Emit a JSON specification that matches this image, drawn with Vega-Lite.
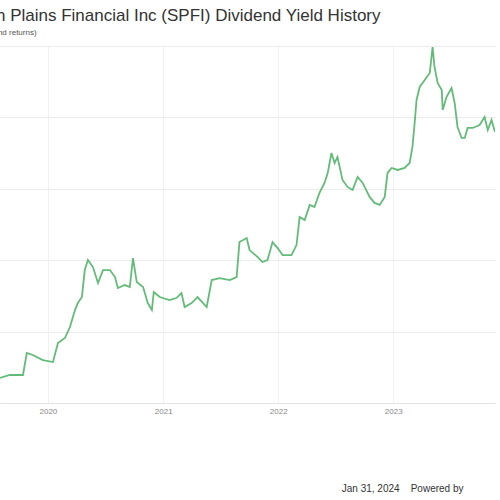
{
  "$schema": "https://vega.github.io/schema/vega-lite/v6.json",
  "width": 495,
  "height": 357,
  "autosize": {"type": "none"},
  "padding": {"top": 46, "left": 0, "right": 5, "bottom": 97},
  "background": "white",
  "title": {
    "text": "South Plains Financial Inc (SPFI) Dividend Yield History",
    "subtitle": "(net dividend returns)",
    "anchor": "start",
    "dx": -39,
    "font": "Liberation Sans",
    "fontSize": 17,
    "fontWeight": "normal",
    "color": "#333333",
    "subtitleFont": "Liberation Sans",
    "subtitleFontSize": 8,
    "subtitleColor": "#555555",
    "subtitlePadding": 4,
    "offset": 8
  },
  "config": {
    "view": {"stroke": null},
    "axis": {"labelFont": "Liberation Sans", "titleFont": "Liberation Sans"}
  },
  "data": {
    "values": [
      {"date": "2019-08-02", "yield": 0.175},
      {"date": "2019-09-02", "yield": 0.196},
      {"date": "2019-10-14", "yield": 0.196},
      {"date": "2019-10-26", "yield": 0.35},
      {"date": "2019-11-14", "yield": 0.336},
      {"date": "2019-12-16", "yield": 0.30},
      {"date": "2020-01-17", "yield": 0.287},
      {"date": "2020-02-02", "yield": 0.42},
      {"date": "2020-02-24", "yield": 0.455},
      {"date": "2020-03-11", "yield": 0.532},
      {"date": "2020-03-27", "yield": 0.651},
      {"date": "2020-04-05", "yield": 0.70},
      {"date": "2020-04-18", "yield": 0.742},
      {"date": "2020-04-27", "yield": 0.931},
      {"date": "2020-05-07", "yield": 1.001},
      {"date": "2020-05-23", "yield": 0.952},
      {"date": "2020-06-08", "yield": 0.84},
      {"date": "2020-06-24", "yield": 0.931},
      {"date": "2020-07-16", "yield": 0.931},
      {"date": "2020-08-01", "yield": 0.882},
      {"date": "2020-08-10", "yield": 0.805},
      {"date": "2020-09-01", "yield": 0.826},
      {"date": "2020-09-17", "yield": 0.812},
      {"date": "2020-09-27", "yield": 1.015},
      {"date": "2020-10-09", "yield": 0.847},
      {"date": "2020-10-29", "yield": 0.812},
      {"date": "2020-11-13", "yield": 0.70},
      {"date": "2020-11-26", "yield": 0.651},
      {"date": "2020-12-02", "yield": 0.777},
      {"date": "2020-12-21", "yield": 0.742},
      {"date": "2021-01-21", "yield": 0.721},
      {"date": "2021-02-12", "yield": 0.735},
      {"date": "2021-02-28", "yield": 0.77},
      {"date": "2021-03-10", "yield": 0.672},
      {"date": "2021-04-01", "yield": 0.70},
      {"date": "2021-04-20", "yield": 0.742},
      {"date": "2021-05-19", "yield": 0.672},
      {"date": "2021-06-04", "yield": 0.861},
      {"date": "2021-06-29", "yield": 0.875},
      {"date": "2021-07-31", "yield": 0.861},
      {"date": "2021-08-22", "yield": 0.882},
      {"date": "2021-08-31", "yield": 1.127},
      {"date": "2021-09-23", "yield": 1.155},
      {"date": "2021-10-02", "yield": 1.071},
      {"date": "2021-10-28", "yield": 1.022},
      {"date": "2021-11-12", "yield": 0.987},
      {"date": "2021-11-28", "yield": 1.001},
      {"date": "2021-12-14", "yield": 1.127},
      {"date": "2021-12-30", "yield": 1.085},
      {"date": "2022-01-15", "yield": 1.036},
      {"date": "2022-02-12", "yield": 1.036},
      {"date": "2022-02-28", "yield": 1.106},
      {"date": "2022-03-10", "yield": 1.302},
      {"date": "2022-03-26", "yield": 1.281},
      {"date": "2022-04-11", "yield": 1.387},
      {"date": "2022-04-26", "yield": 1.373},
      {"date": "2022-05-12", "yield": 1.471},
      {"date": "2022-05-28", "yield": 1.541},
      {"date": "2022-06-07", "yield": 1.611},
      {"date": "2022-06-19", "yield": 1.751},
      {"date": "2022-06-29", "yield": 1.681},
      {"date": "2022-07-08", "yield": 1.723},
      {"date": "2022-07-24", "yield": 1.562},
      {"date": "2022-08-09", "yield": 1.513},
      {"date": "2022-08-25", "yield": 1.492},
      {"date": "2022-09-10", "yield": 1.583},
      {"date": "2022-09-26", "yield": 1.541},
      {"date": "2022-10-18", "yield": 1.443},
      {"date": "2022-11-03", "yield": 1.401},
      {"date": "2022-11-19", "yield": 1.387},
      {"date": "2022-12-05", "yield": 1.443},
      {"date": "2022-12-14", "yield": 1.611},
      {"date": "2022-12-27", "yield": 1.646},
      {"date": "2023-01-15", "yield": 1.632},
      {"date": "2023-02-06", "yield": 1.646},
      {"date": "2023-02-22", "yield": 1.681},
      {"date": "2023-03-03", "yield": 1.793},
      {"date": "2023-03-10", "yield": 1.961},
      {"date": "2023-03-16", "yield": 2.122},
      {"date": "2023-03-26", "yield": 2.213},
      {"date": "2023-04-11", "yield": 2.262},
      {"date": "2023-04-27", "yield": 2.311},
      {"date": "2023-05-06", "yield": 2.493},
      {"date": "2023-05-12", "yield": 2.353},
      {"date": "2023-05-22", "yield": 2.241},
      {"date": "2023-06-04", "yield": 2.192},
      {"date": "2023-06-07", "yield": 2.052},
      {"date": "2023-06-19", "yield": 2.143},
      {"date": "2023-07-05", "yield": 2.206},
      {"date": "2023-07-15", "yield": 2.101},
      {"date": "2023-07-24", "yield": 1.933},
      {"date": "2023-08-06", "yield": 1.856},
      {"date": "2023-08-16", "yield": 1.856},
      {"date": "2023-08-25", "yield": 1.926},
      {"date": "2023-09-10", "yield": 1.926},
      {"date": "2023-10-02", "yield": 1.947},
      {"date": "2023-10-18", "yield": 2.003},
      {"date": "2023-10-28", "yield": 1.912},
      {"date": "2023-11-09", "yield": 1.982},
      {"date": "2023-11-20", "yield": 1.898}
    ]
  },
  "mark": {"type": "line", "color": "#3daa57", "strokeWidth": 1.8, "opacity": 0.8, "clip": true},
  "encoding": {
    "x": {
      "field": "date",
      "type": "temporal",
      "scale": {"domain": ["2019-08-02", "2023-11-20"]},
      "axis": {
        "format": "%Y",
        "tickCount": "year",
        "grid": true,
        "gridColor": "#f0f0f0",
        "domainColor": "#e3e3e3",
        "ticks": false,
        "labelColor": "#888888",
        "labelFontSize": 8,
        "labelPadding": 4,
        "title": "Jan 31, 2024\u00a0\u00a0\u00a0\u00a0Powered by",
        "titleFontSize": 10,
        "titleFontWeight": "normal",
        "titleColor": "#333333",
        "titleAnchor": "end",
        "titleAlign": "right",
        "titleX": 463,
        "titleY": 88,
        "titleBaseline": "alphabetic"
      }
    },
    "y": {
      "field": "yield",
      "type": "quantitative",
      "scale": {"domain": [0, 2.5], "nice": false},
      "axis": {
        "values": [0, 0.5, 1, 1.5, 2, 2.5],
        "grid": true,
        "gridColor": "#ececec",
        "domain": false,
        "ticks": false,
        "labels": false,
        "title": null
      }
    }
  }
}
